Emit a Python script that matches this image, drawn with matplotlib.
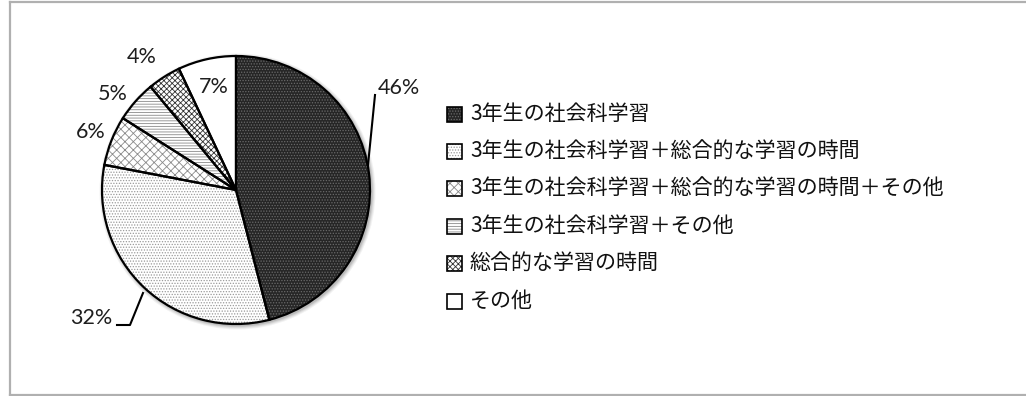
import matplotlib
matplotlib.use("Agg")
import matplotlib.pyplot as plt
from matplotlib.patches import Wedge, Rectangle, Circle
from matplotlib.lines import Line2D
import numpy as np

# Survey shares (percent), clockwise from 12 o'clock
categories = [
    "3年生の社会科学習",
    "3年生の社会科学習＋総合的な学習の時間",
    "3年生の社会科学習＋総合的な学習の時間＋その他",
    "3年生の社会科学習＋その他",
    "総合的な学習の時間",
    "その他",
]
shares = [46, 32, 6, 5, 4, 7]
pct_labels = ["46%", "32%", "6%", "5%", "4%", "7%"]

# Fill styles for each slice: face colour, hatch, hatch colour
faces = ["#262626", "white", "white", "white", "white", "white"]
hatches = ["......", "......", "xxxx", "------", "xxxxxx", ""]
hatch_cols = ["#6a6a6a", "#9a9a9a", "#8a8a8a", "#8a8a8a", "#333333", "white"]

plt.rcParams["hatch.linewidth"] = 0.6

W, H = 1026, 396
fig = plt.figure(figsize=(W / 100, H / 100), dpi=100)
ax = fig.add_axes([0, 0, 1, 1])

cx, cy, R = 236, H - 190, 134

# soft drop shadow behind the pie
for k, a in [(4, 0.05), (3, 0.06), (2, 0.08), (1, 0.10)]:
    ax.add_patch(Circle((cx + 1.5, cy - 1.5), R + k, facecolor="black",
                        alpha=a, linewidth=0, zorder=0))

wedges, _ = ax.pie(shares, center=(cx, cy), radius=R, startangle=90,
                   counterclock=False,
                   wedgeprops=dict(linewidth=0))
for w, fc, h, hc in zip(wedges, faces, hatches, hatch_cols):
    w.set_facecolor(fc)
    w.set_edgecolor(hc)
    w.set_hatch(h)
    w.set_linewidth(0)
    ax.add_patch(Wedge(w.center, w.r, w.theta1, w.theta2, fill=False,
                       edgecolor="black", linewidth=1.6, zorder=3))

ax.set_xlim(0, W)
ax.set_ylim(0, H)
ax.set_aspect("equal")
ax.axis("off")

# Percentage labels (pixel positions from the top-left corner)
lab_font = dict(family=["Lato", "DejaVu Sans"], size=15.5, color="#1e1e1e")
small_pos = {2: (91, 132), 3: (113, 94), 4: (142, 57), 5: (214, 87)}
for i, (px, py) in small_pos.items():
    ax.text(px, H - py, pct_labels[i], ha="center", va="center", **lab_font)

# Leader-line labels for the two large slices
ax.text(378, H - 88.5, pct_labels[0], ha="left", va="center", **lab_font)
ax.add_line(Line2D([375, 368], [H - 95, H - 165], color="black", lw=1.5))
ax.text(112, H - 318, pct_labels[1], ha="right", va="center", **lab_font)
ax.add_line(Line2D([117, 130, 143], [H - 325, H - 325, H - 293],
                   color="black", lw=1.5))

# Legend
leg_font = dict(family=["Noto Sans CJK JP", "DejaVu Sans"], size=15.1,
                color="#111111")
x0, y0, dy, sq = 447, 114, 37.4, 15
for i, (name, fc, h, hc) in enumerate(zip(categories, faces, hatches, hatch_cols)):
    yc = H - (y0 + i * dy)
    ax.add_patch(Rectangle((x0, yc - sq / 2), sq, sq, facecolor=fc,
                           edgecolor=hc, hatch=h, linewidth=0))
    ax.add_patch(Rectangle((x0, yc - sq / 2), sq, sq, fill=False,
                           edgecolor="black", linewidth=1.2))
    ax.text(x0 + sq + 8, yc, name, ha="left", va="center", **leg_font)

# Chart frame
for xs, ys in [([10, 10], [1, H - 2]), ([10, W + 5], [H - 2, H - 2]),
               ([10, W + 5], [1, 1])]:
    fig.add_artist(Line2D(np.array(xs) / W, np.array(ys) / H,
                          color="#b0b0b0", lw=1.6))

fig.savefig("out.png", dpi=100, facecolor="white")
